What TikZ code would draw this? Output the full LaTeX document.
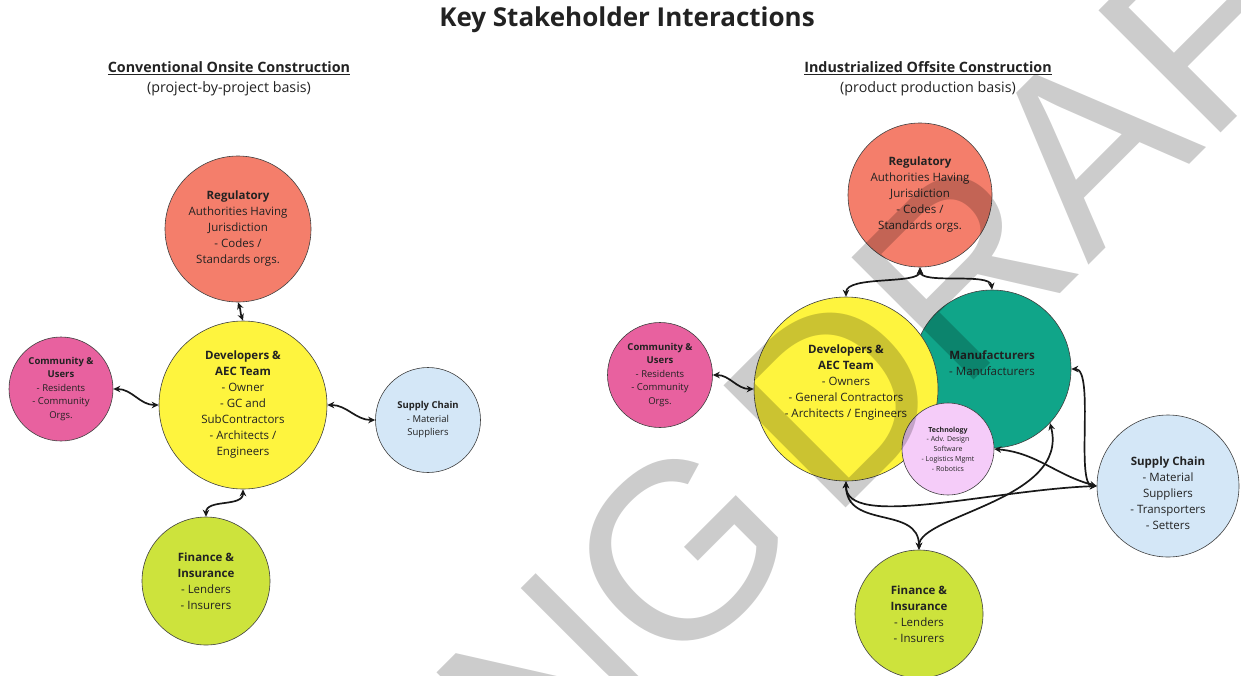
\documentclass[tikz,border=0pt]{standalone}
\usepackage{fontspec}
\setmainfont{Open Sans}
\newfontfamily\markfont{Liberation Sans}
\usetikzlibrary{arrows,arrows.meta,positioning}

\definecolor{regcol}{HTML}{F47E6B}
\definecolor{devcol}{HTML}{FEF43E}
\definecolor{comcol}{HTML}{E8619F}
\definecolor{supcol}{HTML}{D4E7F7}
\definecolor{fincol}{HTML}{CDE33C}
\definecolor{mancol}{HTML}{10A589}
\definecolor{techcol}{HTML}{F5CCF9}
\definecolor{inkcol}{HTML}{222222}

\begin{document}
\begin{tikzpicture}[x=1pt,y=-1pt,
  stake/.style={circle,draw=black!75,line width=0.6pt,inner sep=0pt,align=center,
    text=inkcol,font=\fontsize{11.5}{16}\selectfont},
  small/.style={font=\fontsize{9.5}{13.5}\selectfont},
  tiny/.style={font=\fontsize{7}{9.7}\selectfont},
  head/.style={align=center,text=inkcol,font=\fontsize{14.3}{20}\selectfont},
  link/.style={{Stealth[length=7pt,width=6.5pt]}-{Stealth[length=7pt,width=6.5pt]},line width=1.7pt,black!90}]
\useasboundingbox (0,0) rectangle (1241,675);
\clip (0,0) rectangle (1241,675);

\node[text=inkcol,font=\fontsize{26}{30}\bfseries] (title) at (627,20) {Key Stakeholder Interactions};
\node[head] (headL) at (229,79) {\underline{\textbf{Conventional Onsite Construction}}\\(project-by-project basis)};
\node[head] (headR) at (928,79) {\underline{\textbf{Industrialized Offsite Construction}}\\(product production basis)};

% conventional onsite
\node[stake,fill=regcol,minimum size=146pt] (regL) at (238,229)
  {\textbf{Regulatory}\\Authorities Having\\Jurisdiction\\- Codes /\\Standards orgs.};
\node[stake,fill=devcol,minimum size=168pt] (devL) at (243,405)
  {\textbf{Developers \&}\\\textbf{AEC Team}\\- Owner\\- GC and\\SubContractors\\- Architects /\\Engineers};
\node[stake,small,fill=comcol,minimum size=104pt] (comL) at (61,389)
  {\textbf{Community \&}\\\textbf{Users}\\- Residents\\- Community\\Orgs.};
\node[stake,small,fill=supcol,minimum size=105pt] (supL) at (428,420)
  {\textbf{Supply Chain}\\- Material\\Suppliers};
\node[stake,fill=fincol,minimum size=128pt] (finL) at (206,581)
  {\textbf{Finance \&}\\\textbf{Insurance}\\- Lenders\\- Insurers};

\path[link] (regL.south) edge[out=-70,in=110] (devL.north);
\path[link] (comL.east) edge[out=0,in=180] (devL.west);
\path[link] (devL.east) edge[out=0,in=180] (supL.west);
\path[link] (devL.south) edge[out=-90,in=90] (finL.north);

% industrialized offsite
\node[stake,fill=regcol,minimum size=144pt] (regR) at (920,195)
  {\textbf{Regulatory}\\Authorities Having\\Jurisdiction\\- Codes /\\Standards orgs.};
\node[stake,fill=mancol,minimum size=158pt] (manR) at (992,369)
  {\textbf{Manufacturers}\\- Manufacturers\\[-4pt]};
\node[stake,fill=devcol,minimum size=184pt] (devR) at (846,389)
  {\textbf{Developers \&}\\\textbf{AEC Team}\\- Owners\\- General Contractors\\- Architects / Engineers\\[-1pt]};
\node[stake,tiny,fill=techcol,minimum size=92pt] (tech) at (948,449)
  {\textbf{Technology}\\- Adv. Design\\Software\\- Logistics Mgmt\\- Robotics};
\node[stake,small,fill=comcol,minimum size=105pt] (comR) at (660,375)
  {\textbf{Community \&}\\\textbf{Users}\\- Residents\\- Community\\Orgs.};
\node[stake,fill=supcol,minimum size=142pt] (supR) at (1168,486)
  {\strut\\[-4pt]\textbf{Supply Chain}\\- Material\\Suppliers\\- Transporters\\- Setters};
\node[stake,fill=fincol,minimum size=128pt] (finR) at (919,614)
  {\textbf{Finance \&}\\\textbf{Insurance}\\- Lenders\\- Insurers};

\draw[link] (regR.south) .. controls (920,285) and (846,275) .. (devR.north);
\draw[link] (regR.south) .. controls (920,285) and (990,272) .. (manR.north);
\path[link] (comR.east) edge[out=0,in=180] (devR.west);
\draw[link] (supR.west) .. controls (1075,486) and (1095,369) .. (manR.east);
\path[link] (supR.west) edge[out=165,in=-5] (tech.east);
\draw[link] (supR.west) .. controls (990,490) and (845,530) .. (devR.south);
\draw[link] (devR.south) .. controls (846,530) and (919,505) .. (finR.north);
\draw[link] (finR.north) .. controls (919,515) and (1070,500) .. (manR.-43);

\node[rotate=45,anchor=base west,inner sep=0pt,opacity=0.2,text=black,
  font=\markfont\fontsize{251}{251}\selectfont] (mark) at (1088,266) {\llap{WORKING\kern-40pt\ DR}AFT};
\end{tikzpicture}
\end{document}
